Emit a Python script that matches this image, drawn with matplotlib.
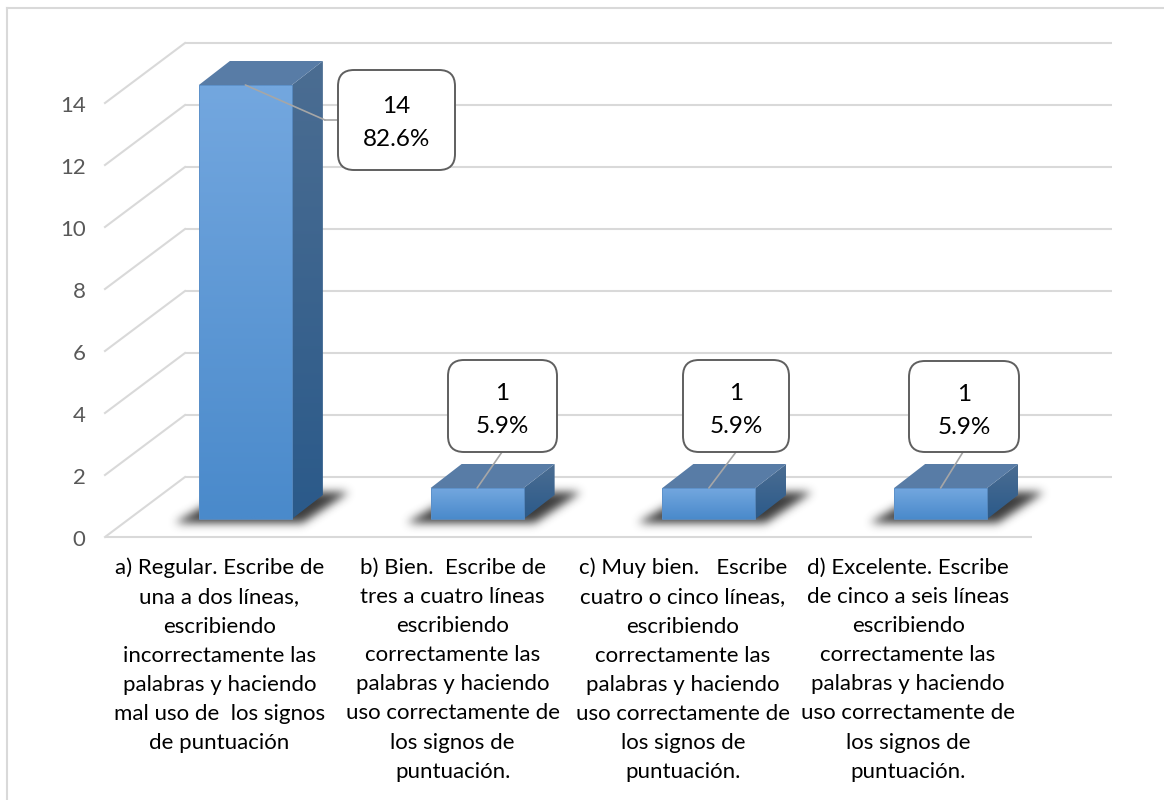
import numpy as np
import matplotlib
matplotlib.use("Agg")
import matplotlib.pyplot as plt
from matplotlib.colors import to_rgb
from matplotlib.patches import FancyBboxPatch, Polygon
from matplotlib.path import Path
from matplotlib.transforms import Affine2D

plt.rcParams['font.family'] = ['Lato', 'DejaVu Sans']

# Data
categories = [
    "a) Regular. Escribe de\nuna a dos líneas,\nescribiendo\nincorrectamente las\npalabras y haciendo\nmal uso de  los signos\nde puntuación",
    "b) Bien.  Escribe de\ntres a cuatro líneas\nescribiendo\ncorrectamente las\npalabras y haciendo\nuso correctamente de\nlos signos de\npuntuación.",
    "c) Muy bien.   Escribe\ncuatro o cinco líneas,\nescribiendo\ncorrectamente las\npalabras y haciendo\nuso correctamente de\nlos signos de\npuntuación.",
    "d) Excelente. Escribe\nde cinco a seis líneas\nescribiendo\ncorrectamente las\npalabras y haciendo\nuso correctamente de\nlos signos de\npuntuación.",
]
values = [14, 1, 1, 1]
percents = ["82.6%", "5.9%", "5.9%", "5.9%"]
y_ticks = [0, 2, 4, 6, 8, 10, 12, 14]

# Layout in output pixels
W, H = 1164, 800
left, right, floor_y, top_y = 105, 1032, 537, 103
x_unit = (right - left) / 4
y_unit = (floor_y - top_y) / 14
bar_w = 93 / x_unit
depth_x, depth_y = 31 / x_unit, 24 / y_unit
font_size = 16
grid_color = "#d9d9d9"

fig = plt.figure(figsize=(W / 100, H / 100), dpi=100)
ax = fig.add_axes([left / W, 1 - floor_y / H, (right - left) / W, (floor_y - top_y) / H])

# pixel coordinates with the origin at the top left, for frame and callouts
px = Affine2D().scale(1, -1).translate(0, H)
# the 3D look: back wall and bars sit at fixed offsets from the front axis
wall = ax.transData + Affine2D().translate(80, 60)
bars = ax.transData + Affine2D().translate(24.5, 18)


def gradient(c_top, c_bottom, x0, x1, y0, y1, clip, zorder):
    ramp = np.linspace(to_rgb(c_bottom), to_rgb(c_top), 64)[:, None, :]
    im = ax.imshow(ramp, extent=[x0, x1, y0, y1], origin="lower", aspect="auto",
                   transform=bars, zorder=zorder, interpolation="bilinear")
    im.set_clip_path(clip)
    # images are cut at the axes box otherwise, and the tall bar rises above it
    im.set_clip_box(fig.bbox)


def make_shadow():
    # soft dark shape under a bar, in pixels around the bar's front left corner
    gx, gy = np.meshgrid(np.arange(-45, 175), np.arange(-50, 25))
    shape = Path([(-24, 3), (104, 3), (150, -28), (30, -28)])
    mask = shape.contains_points(np.c_[gx.ravel(), gy.ravel()]).reshape(gx.shape).astype(float)
    k = np.exp(-np.arange(-12, 13) ** 2 / (2 * 4.5 ** 2))
    k /= k.sum()
    mask = np.apply_along_axis(lambda r: np.convolve(r, k, mode="same"), 0, mask)
    mask = np.apply_along_axis(lambda r: np.convolve(r, k, mode="same"), 1, mask)
    rgba = np.zeros(mask.shape + (4,))
    rgba[..., :3] = 0.2
    rgba[..., 3] = mask * 0.95
    return rgba


shadow = make_shadow()

# walls and floor
for v in y_ticks:
    ax.hlines(v, -0.5, 3.5, transform=wall, color=grid_color, lw=1.5, zorder=1, clip_on=False)
    ax.plot([-0.5, -0.5 + 80 / x_unit], [v, v + 60 / y_unit], color=grid_color, lw=1.5, zorder=1,
            clip_on=False)
ax.hlines(0, -0.5, 3.5, color=grid_color, lw=1.5, zorder=1, clip_on=False)

# bars
xs = np.arange(len(values))
rects = ax.bar(xs, values, width=bar_w, transform=bars, color="none", edgecolor="#5b8fc7",
               linewidth=0.6, zorder=5, clip_on=False)
for x, v, rect in zip(xs, values, rects):
    x0, x1 = x - bar_w / 2, x + bar_w / 2
    ax.imshow(shadow, extent=[x0 - 45 / x_unit, x0 + 175 / x_unit, -25 / y_unit, 50 / y_unit],
              aspect="auto", transform=bars, zorder=2, clip_on=False)
    gradient("#73a7df", "#4a8acb", x0, x1, 0, v, rect, 4)
    side = Polygon([(x1, 0), (x1 + depth_x, depth_y), (x1 + depth_x, v + depth_y), (x1, v)],
                   transform=bars, facecolor="none", edgecolor="none", zorder=4)
    ax.add_patch(side)
    gradient("#4b6d92", "#2b5a8a", x1, x1 + depth_x, 0, v + depth_y, side, 4)
    ax.add_patch(Polygon([(x0, v), (x1, v), (x1 + depth_x, v + depth_y), (x0 + depth_x, v + depth_y)],
                         transform=bars, facecolor="#587ca6", edgecolor="none", zorder=4, clip_on=False))

# callouts: left, right, top, bottom of each box in pixels
boxes = [(338, 455, 70, 170), (448, 557, 360, 452), (683, 789, 360, 452), (909, 1019, 361, 452)]
elbows = [(325, 120), (502, 452), (736, 452), (963, 452)]
for x, v, pct, (bl, br, bt, bb), end in zip(xs, values, percents, boxes, elbows):
    ax.annotate("", xy=(x, v), xycoords=bars, xytext=end, textcoords=px, zorder=6,
                arrowprops=dict(arrowstyle="-", color="#a6a6a6", lw=1.2, shrinkA=0, shrinkB=0))
    if end[0] < bl:
        ax.plot([end[0], bl], [end[1], end[1]], transform=px, color="#a6a6a6", lw=1.2, zorder=6,
                clip_on=False)
    r = 16
    ax.add_patch(FancyBboxPatch((bl + r, bt + r), br - bl - 2 * r, bb - bt - 2 * r, transform=px,
                                boxstyle=f"round,pad={r},rounding_size={r}", mutation_aspect=1,
                                facecolor="white", edgecolor="#5f5f5f", lw=1.4, zorder=7, clip_on=False))
    cx = (bl + br) / 2
    ty = bt + 0.35 * (bb - bt) + 1.2
    ax.text(cx, ty, str(v), transform=px, ha="center", va="center", fontsize=17.5, color="black", zorder=8)
    ax.text(cx, ty + 33, pct, transform=px, ha="center", va="center", fontsize=17.5, color="black", zorder=8)

# frame of the chart area, only top and left are inside the picture
fig.add_artist(plt.Line2D([7, W], [8, 8], transform=px, color=grid_color, lw=1.5))
fig.add_artist(plt.Line2D([7, 7], [8, H], transform=px, color=grid_color, lw=1.5))

ax.set_xlim(-0.5, 3.5)
ax.set_ylim(0, 14)
ax.patch.set_visible(False)
for s in ax.spines.values():
    s.set_visible(False)
ax.set_yticks(y_ticks)
ax.set_xticks(xs)
ax.set_xticklabels(categories, fontsize=font_size, color="black", linespacing=1.57, va="top")
ax.tick_params(axis="y", length=0, pad=14, labelsize=font_size, labelcolor="#595959")
ax.tick_params(axis="x", length=0, pad=15)
# category labels are not exactly centred under the ticks
for lab, dx in zip(ax.get_xticklabels(), [-1.5, 0, -1.5, -8]):
    lab.set_transform(lab.get_transform() + Affine2D().translate(dx, 0))
for lab in ax.get_yticklabels():
    lab.set_transform(lab.get_transform() + Affine2D().translate(0, -1))

fig.savefig("out.png", dpi=100)
